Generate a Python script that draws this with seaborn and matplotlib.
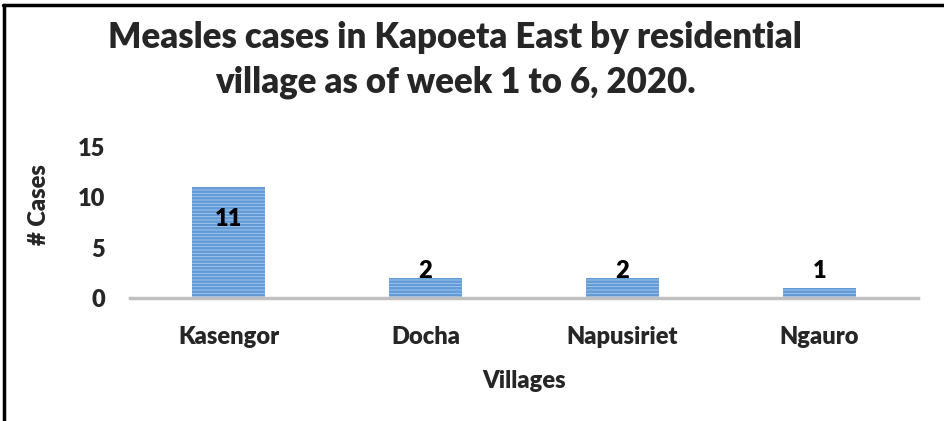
import matplotlib
matplotlib.use("Agg")
import matplotlib.pyplot as plt
import seaborn as sns
import pandas as pd
from matplotlib.lines import Line2D

# chart data
villages = ["Kasengor", "Docha", "Napusiriet", "Ngauro"]
cases = [11, 2, 2, 1]
y_ticks = [0, 5, 10, 15]

title = "Measles cases in Kapoeta East by residential\nvillage as of week 1 to 6, 2020."
x_label = "Villages"
y_label = "# Cases"

df = pd.DataFrame({"village": villages, "cases": cases})

sns.set_theme(style="white")
plt.rcParams["font.family"] = ["Lato", "DejaVu Sans"]
plt.rcParams["hatch.linewidth"] = 1.8

W = "heavy"

fig = plt.figure(figsize=(9.44, 4.21), dpi=100)
ax = fig.add_axes([130 / 944, (421 - 298) / 421, (918 - 130) / 944, 151 / 421])

sns.barplot(data=df, x="village", y="cases", ax=ax, width=0.37,
            color="#a9caee", saturation=1)
for bar in ax.patches:
    bar.set_hatch("-----")
    bar.set_edgecolor("#629bd6")
    bar.set_linewidth(0)

# data labels: inside end for the tall bar, above for the small ones
for i, v in enumerate(cases):
    ly = v - 3.2 if v > 5 else 2.7
    ax.text(i, ly, str(v), ha="center", va="center", fontsize=17,
            fontweight=W, color="black")

ax.set_ylim(0, 15)
ax.set_xlim(-0.5, len(villages) - 0.5)
ax.set_yticks(y_ticks)
ax.tick_params(axis="y", length=0, pad=18, labelsize=17)
ax.tick_params(axis="x", length=0, pad=20, labelsize=17)
for lab in ax.get_xticklabels() + ax.get_yticklabels():
    lab.set_fontweight(W)

for s in ["top", "right", "left"]:
    ax.spines[s].set_visible(False)
ax.spines["bottom"].set_color("#c0c0c0")
ax.spines["bottom"].set_linewidth(2.5)

ax.set_xlabel(x_label, fontsize=17, fontweight=W, labelpad=16)
ax.set_ylabel(y_label, fontsize=17, fontweight=W)
ax.yaxis.set_label_coords(-80 / 788, 0.62)

fig.text(455 / 944, 1 - 60 / 421, title, ha="center", va="center",
         fontsize=25, fontweight=W, linespacing=1.4)

# frame around the picture (top and left edges only are visible)
fig.add_artist(Line2D([4 / 944, 4 / 944], [0, 1 - 5 / 421], color="black", lw=2.5,
                      transform=fig.transFigure))
fig.add_artist(Line2D([3 / 944, 1], [1 - 5 / 421, 1 - 5 / 421], color="black", lw=2.5,
                      transform=fig.transFigure))

fig.savefig("out.png", dpi=100)
